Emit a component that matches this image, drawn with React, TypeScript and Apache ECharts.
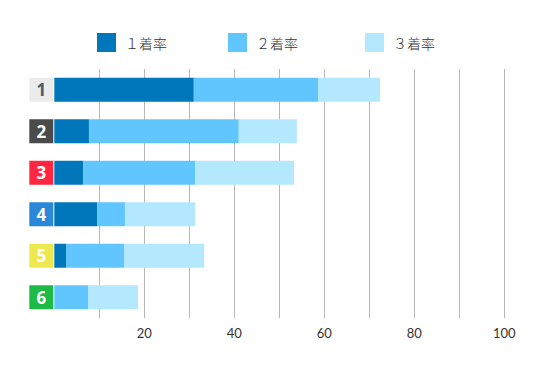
import React, { useEffect, useRef } from "react";
import * as echarts from "echarts";

const categories = ["1", "2", "3", "4", "5", "6"];
const seriesNames = ["１着率", "２着率", "３着率"];
const first = [31.0, 7.7, 6.4, 9.5, 2.6, 0];
const second = [27.6, 33.3, 24.9, 6.2, 12.9, 7.5];
const third = [13.8, 12.9, 22.0, 15.6, 17.8, 11.1];
const tickLabels = ["20", "40", "60", "80", "100"];

const seriesColors = ["#0077bb", "#61c6ff", "#b3e8ff"];
const boxBg = ["#ebebeb", "#4b4b4b", "#ff2641", "#2b88d8", "#ede84f", "#1dba45"];
const boxFg = ["#4f5a64", "#ffffff", "#ffffff", "#ffffff", "#ffffff", "#ffffff"];

export default function App() {
  const ref = useRef<HTMLDivElement>(null);
  useEffect(() => {
    if (!ref.current) return;
    const chart = echarts.init(ref.current, null, { renderer: "svg" });
    const rich: any = {};
    categories.forEach((c, i) => {
      rich["b" + i] = {
        backgroundColor: boxBg[i],
        color: boxFg[i],
        width: 24,
        height: 24,
        lineHeight: 24,
        align: "center",
        fontSize: 17,
        fontWeight: "bold",
        fontFamily: "Noto Sans",
      };
    });
    const legendLefts = [89, 220, 357];
    chart.setOption({
      animation: false,
      legend: seriesNames.map((n, i) => ({
        data: [n],
        left: legendLefts[i],
        top: 25,
        padding: 0,
        itemWidth: 19,
        itemHeight: 19,
        itemGap: 10,
        icon: "rect",
        textStyle: {
          fontSize: 14,
          color: "#333",
          fontFamily: "Noto Sans CJK JP",
          fontWeight: 300,
          padding: [0, 0, 0, 4],
        },
      })),
      grid: { left: 46.3, right: 43.7, top: 61, height: 249 },
      xAxis: {
        type: "value",
        min: 0,
        max: 100,
        interval: 10,
        axisLine: { show: false },
        axisTick: { show: false },
        splitLine: { show: true, showMinLine: false, lineStyle: { color: "#b8b8b8", width: 1 } },
        axisLabel: {
          margin: 8,
          fontSize: 13,
          color: "#333",
          fontFamily: "Lato",
          formatter: (v: number) => (tickLabels.includes(String(v)) ? String(v) : ""),
        },
      },
      yAxis: {
        type: "category",
        data: categories,
        inverse: true,
        axisLine: { show: false },
        axisTick: { show: false },
        splitLine: { show: false },
        axisLabel: {
          margin: 1,
          formatter: (v: string) => `{b${categories.indexOf(v)}|${v}}`,
          rich,
        },
      },
      series: [first, second, third].map((d, i) => ({
        name: seriesNames[i],
        type: "bar",
        stack: "all",
        data: d,
        barWidth: 24,
        itemStyle: { color: seriesColors[i] },
      })),
    });
    return () => chart.dispose();
  }, []);
  return <div ref={ref} style={{ width: 540, height: 365 }} />;
}
